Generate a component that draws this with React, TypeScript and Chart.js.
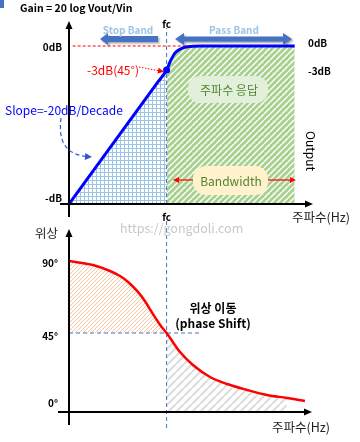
import React, { useEffect, useRef } from "react";
import { Chart, registerables } from "chart.js";
Chart.register(...registerables);

// ---- data ----
const fc = 4;
const freq = [0, 3.6, 4, 4.14, 4.34, 4.55, 4.75, 5.08, 5.4, 9.25];
const gainDb = [-19.75, -4.675, -3, -2, -0.9, -0.4, -0.15, -0.04, 0, 0];
const phaseFreq = [0, 0.98, 1.68, 2.09, 2.42, 2.79, 3.11, 3.4, 3.73, 4.0, 4.55, 5.08, 5.78, 6.48, 7.3, 8.11, 8.93, 9.67];
const phaseDeg = [90, 87.5, 83.75, 80.6, 76.9, 71.3, 65, 57.8, 50.2, 45, 33.1, 25, 17.5, 13.1, 9.4, 6.25, 4.4, 2.5];
const gainTickValues = [0, -18.9];
const gainTickLabels = ["0dB", "-dB"];
const gainRightValues = [0, -3];
const gainRightLabels = ["0dB", "-3dB"];
const phaseTickValues = [90, 45, 0];
const phaseTickLabels = ["90°", "45°", "0°"];

const GAIN_MIN = -19.75, GAIN_MAX = 3;
const PH_MIN = -4.375, PH_MAX = 109.375;
const KR = '"Noto Sans CJK KR", "Noto Sans", sans-serif';

function pattern(size: number, draw: (c: CanvasRenderingContext2D) => void) {
  const cv = document.createElement("canvas");
  cv.width = size; cv.height = size;
  const c = cv.getContext("2d")!;
  draw(c);
  return c.createPattern(cv, "repeat")!;
}
function stripes(size: number, bg: string, fg: string, w: number) {
  return pattern(size, (c) => {
    c.fillStyle = bg; c.fillRect(0, 0, size, size);
    c.strokeStyle = fg; c.lineWidth = w;
    for (const k of [-size, 0, size]) {
      c.beginPath(); c.moveTo(k, size); c.lineTo(k + size, 0); c.stroke();
    }
  });
}

function txt(ctx: CanvasRenderingContext2D, s: string, x: number, y: number, font: string, color: string, align: CanvasTextAlign = "left") {
  ctx.save();
  ctx.font = font; ctx.fillStyle = color; ctx.textAlign = align; ctx.textBaseline = "middle";
  ctx.fillText(s, x, y);
  ctx.restore();
}
function head(ctx: CanvasRenderingContext2D, x: number, y: number, ang: number, len: number, hw: number, color: string) {
  ctx.save();
  ctx.translate(x, y); ctx.rotate(ang);
  ctx.fillStyle = color;
  ctx.beginPath(); ctx.moveTo(0, 0); ctx.lineTo(-len, -hw); ctx.lineTo(-len, hw); ctx.closePath(); ctx.fill();
  ctx.restore();
}
function rrect(ctx: CanvasRenderingContext2D, x: number, y: number, w: number, h: number, r: number, fill: string) {
  ctx.save();
  ctx.fillStyle = fill;
  ctx.beginPath();
  ctx.moveTo(x + r, y); ctx.lineTo(x + w - r, y); ctx.arcTo(x + w, y, x + w, y + r, r);
  ctx.lineTo(x + w, y + h - r); ctx.arcTo(x + w, y + h, x + w - r, y + h, r);
  ctx.lineTo(x + r, y + h); ctx.arcTo(x, y + h, x, y + h - r, r);
  ctx.lineTo(x, y + r); ctx.arcTo(x, y, x + r, y, r);
  ctx.closePath(); ctx.fill();
  ctx.restore();
}
function axes(ctx: CanvasRenderingContext2D, x0: number, y0: number, xLeft: number, xEnd: number, yTop: number, yBottom: number) {
  ctx.save();
  ctx.strokeStyle = "#000"; ctx.lineWidth = 2;
  ctx.beginPath(); ctx.moveTo(xLeft, y0); ctx.lineTo(xEnd - 5, y0); ctx.stroke();
  ctx.beginPath(); ctx.moveTo(x0, yBottom); ctx.lineTo(x0, yTop + 5); ctx.stroke();
  ctx.restore();
  head(ctx, xEnd, y0, 0, 8, 3.5, "#000");
  head(ctx, x0, yTop, -Math.PI / 2, 8, 3.5, "#000");
}

const topPlugin = {
  id: "topDeco",
  afterDatasetsDraw(chart: any) {
    const ctx: CanvasRenderingContext2D = chart.ctx;
    const xs = chart.scales.x, ys = chart.scales.y;
    const x0 = xs.getPixelForValue(0);
    const y0 = ys.getPixelForValue(GAIN_MIN);
    const xfc = xs.getPixelForValue(fc);
    ctx.fillStyle = "#4472c4"; ctx.fillRect(0, 0, 4, 8);
    txt(ctx, "Gain = 20 log Vout/Vin", 20, 8, `bold 10.5px ${KR}`, "#000");
    axes(ctx, x0, y0, 60, xs.getPixelForValue(10), 21, 217);
    gainTickValues.forEach((v, i) => txt(ctx, gainTickLabels[i], 62, ys.getPixelForValue(v) + 1, `bold 10px ${KR}`, "#000", "right"));
    gainRightValues.forEach((v, i) => txt(ctx, gainRightLabels[i], 308, ys.getPixelForValue(v) + (i === 0 ? -3 : 1), `bold 10px ${KR}`, "#000"));
    txt(ctx, "fc", xfc, 24, `bold 10px ${KR}`, "#000", "center");
    txt(ctx, "fc", xfc, 217, `bold 10px ${KR}`, "#000", "center");
    txt(ctx, "주파수(Hz)", 292, 217, `12.5px ${KR}`, "#222");
    // Stop band arrow
    ctx.save();
    ctx.shadowColor = "rgba(0,0,0,0.35)"; ctx.shadowBlur = 2; ctx.shadowOffsetX = 1.5; ctx.shadowOffsetY = 1.5;
    ctx.fillStyle = "#4472c4";
    ctx.beginPath();
    ctx.moveTo(100, 39); ctx.lineTo(108, 33); ctx.lineTo(108, 36); ctx.lineTo(158, 36); ctx.lineTo(158, 42); ctx.lineTo(108, 42); ctx.lineTo(108, 45); ctx.closePath(); ctx.fill();
    // Pass band double arrow
    ctx.beginPath();
    ctx.moveTo(175, 39); ctx.lineTo(184, 33); ctx.lineTo(184, 36.5); ctx.lineTo(283, 36.5); ctx.lineTo(283, 33); ctx.lineTo(292, 39);
    ctx.lineTo(283, 45); ctx.lineTo(283, 41.5); ctx.lineTo(184, 41.5); ctx.lineTo(184, 45); ctx.closePath(); ctx.fill();
    ctx.restore();
    txt(ctx, "Stop Band", 128, 30, `bold 10px ${KR}`, "#9dc3e6", "center");
    txt(ctx, "Pass Band", 234, 30, `bold 10px ${KR}`, "#9dc3e6", "center");
    // -3dB label and arrow
    txt(ctx, "-3dB(45°)", 87, 70, `12px ${KR}`, "#ff0000");
    ctx.save();
    ctx.strokeStyle = "#ff0000"; ctx.lineWidth = 1; ctx.setLineDash([1.5, 1.5]);
    ctx.beginPath(); ctx.moveTo(139, 67); ctx.lineTo(160, 71); ctx.stroke();
    ctx.restore();
    head(ctx, 164, 71.8, Math.atan2(4, 21), 6, 3, "#ff0000");
    // slope
    txt(ctx, "Slope=-20dB/Decade", 5, 110, `12px ${KR}`, "#0000ff");
    ctx.save();
    ctx.strokeStyle = "#2f55d4"; ctx.lineWidth = 1.2; ctx.setLineDash([4, 3]);
    ctx.beginPath(); ctx.moveTo(61, 118); ctx.bezierCurveTo(58, 142, 66, 154, 86, 156.5); ctx.stroke();
    ctx.restore();
    head(ctx, 92, 157, 0.08, 7, 3.5, "#2f55d4");
    // boxes
    rrect(ctx, 188, 76, 80, 27, 12, "#e2f0d9");
    txt(ctx, "주파수 응답", 229, 90, `12px ${KR}`, "#548235", "center");
    rrect(ctx, 193, 166, 75, 29, 13, "#fff2cc");
    txt(ctx, "Bandwidth", 231, 181, `12px ${KR}`, "#548235", "center");
    ctx.save();
    ctx.strokeStyle = "#ff0000"; ctx.lineWidth = 1.2;
    ctx.beginPath(); ctx.moveTo(178, 180); ctx.lineTo(193, 180); ctx.stroke();
    ctx.beginPath(); ctx.moveTo(268, 180); ctx.lineTo(291, 180); ctx.stroke();
    ctx.restore();
    head(ctx, 173, 180, Math.PI, 6, 3, "#ff0000");
    head(ctx, 296, 180, 0, 6, 3, "#ff0000");
    // Output
    ctx.save();
    ctx.translate(311, 151); ctx.rotate(Math.PI / 2);
    txt(ctx, "Output", 0, 0, `12px ${KR}`, "#000", "center");
    ctx.restore();
  },
};

const botPlugin = {
  id: "botDeco",
  afterDatasetsDraw(chart: any) {
    const ctx: CanvasRenderingContext2D = chart.ctx;
    const xs = chart.scales.x, ys = chart.scales.y;
    const x0 = xs.getPixelForValue(0);
    const y0 = ys.getPixelForValue(PH_MIN);
    txt(ctx, "https://gongdoli.com", 120, 8, `12.5px ${KR}`, "#c8c8c8");
    txt(ctx, "위상", 35, 13, `12.5px ${KR}`, "#222");
    axes(ctx, x0, y0, 58, 312, 9, 205);
    phaseTickValues.forEach((v, i) => txt(ctx, phaseTickLabels[i], 58, ys.getPixelForValue(v) + (v === 0 ? -2 : v === 45 ? 3 : 2), `bold 10px ${KR}`, "#000", "right"));
    txt(ctx, "위상 이동", 213, 88, `bold 12px ${KR}`, "#000", "center");
    txt(ctx, "(phase Shift)", 213, 103, `bold 12px ${KR}`, "#000", "center");
    txt(ctx, "주파수(Hz)", 272, 207, `12.5px ${KR}`, "#222");
  },
};

function pts(xs: number[], ys: number[]) {
  return xs.map((x, i) => ({ x, y: ys[i] }));
}

export default function App() {
  const topRef = useRef<HTMLCanvasElement>(null);
  const botRef = useRef<HTMLCanvasElement>(null);
  useEffect(() => {
    const gridPat = pattern(4, (c) => {
      c.fillStyle = "#ffffff"; c.fillRect(0, 0, 4, 4);
      c.fillStyle = "#9dc3e6"; c.fillRect(0, 0, 4, 1); c.fillRect(0, 0, 1, 4);
    });
    const greenPat = stripes(6, "#a9d18e", "#ffffff", 1.5);
    const orangePat = stripes(4, "#ffffff", "#f8c4a0", 1);
    const grayPat = stripes(8, "#ffffff", "#dcdcdc", 2);

    const gain = pts(freq, gainDb);
    const phase = pts(phaseFreq, phaseDeg);
    const baseOpts = {
      responsive: false,
      animation: false as const,
      events: [],
      plugins: { legend: { display: false }, tooltip: { enabled: false } },
    };
    const top = new Chart(topRef.current!, {
      type: "scatter",
      data: {
        datasets: [
          { data: [{ x: fc, y: -3 }], pointRadius: 3.5, pointBackgroundColor: "#0000ff", pointBorderWidth: 0, showLine: false },
          { data: gain, showLine: true, borderColor: "#0000ff", borderWidth: 3, pointRadius: 0, cubicInterpolationMode: "monotone", fill: false },
          { data: [{ x: 0.15, y: 0 }, { x: 5.9, y: 0 }], showLine: true, borderColor: "#ff0000", borderWidth: 1, borderDash: [3, 2], pointRadius: 0 },
          { data: [{ x: fc, y: GAIN_MIN }, { x: fc, y: 2.25 }], showLine: true, borderColor: "#4472c4", borderWidth: 1, borderDash: [4, 3], pointRadius: 0 },
          { data: gain.filter((p) => p.x >= fc), showLine: true, borderWidth: 0, pointRadius: 0, cubicInterpolationMode: "monotone", fill: { value: GAIN_MIN }, backgroundColor: greenPat },
          { data: gain.filter((p) => p.x <= fc), showLine: true, borderWidth: 0, pointRadius: 0, fill: { value: GAIN_MIN }, backgroundColor: gridPat },
        ] as any,
      },
      options: {
        ...baseOpts,
        layout: { padding: { left: 69, right: 47, top: 22, bottom: 28 } },
        scales: {
          x: { type: "linear", min: 0, max: 10, display: false },
          y: { type: "linear", min: GAIN_MIN, max: GAIN_MAX, display: false },
        },
      } as any,
      plugins: [topPlugin],
    });
    const bot = new Chart(botRef.current!, {
      type: "scatter",
      data: {
        datasets: [
          { data: phase, showLine: true, borderColor: "#ff0000", borderWidth: 2.5, pointRadius: 0, cubicInterpolationMode: "monotone", fill: false },
          { data: [{ x: 0, y: 45 }, { x: 5.37, y: 45 }], showLine: true, borderColor: "#4472c4", borderWidth: 1, borderDash: [4, 3], pointRadius: 0 },
          { data: [{ x: fc, y: -14.4 }, { x: fc, y: 115.6 }], showLine: true, borderColor: "#4472c4", borderWidth: 1, borderDash: [4, 3], pointRadius: 0, clip: false },
          { data: phase.filter((p) => p.x <= fc), showLine: true, borderWidth: 0, pointRadius: 0, cubicInterpolationMode: "monotone", fill: { value: 45 }, backgroundColor: orangePat },
          { data: phase.filter((p) => p.x >= fc && p.x <= 9.4), showLine: true, borderWidth: 0, pointRadius: 0, cubicInterpolationMode: "monotone", fill: { value: PH_MIN }, backgroundColor: grayPat },
        ] as any,
      },
      options: {
        ...baseOpts,
        layout: { padding: { left: 69, right: 47, top: 10, bottom: 30 } },
        scales: {
          x: { type: "linear", min: 0, max: 10, display: false },
          y: { type: "linear", min: PH_MIN, max: PH_MAX, display: false },
        },
      } as any,
      plugins: [botPlugin],
    });
    return () => { top.destroy(); bot.destroy(); };
  }, []);
  return (
    <div style={{ position: "absolute", left: 0, top: 0, width: 360, height: 442, background: "#fff" }}>
      <canvas ref={topRef} width={360} height={232} style={{ position: "absolute", left: 0, top: 0, width: 360, height: 232 }} />
      <canvas ref={botRef} width={360} height={222} style={{ position: "absolute", left: 0, top: 220, width: 360, height: 222 }} />
    </div>
  );
}
